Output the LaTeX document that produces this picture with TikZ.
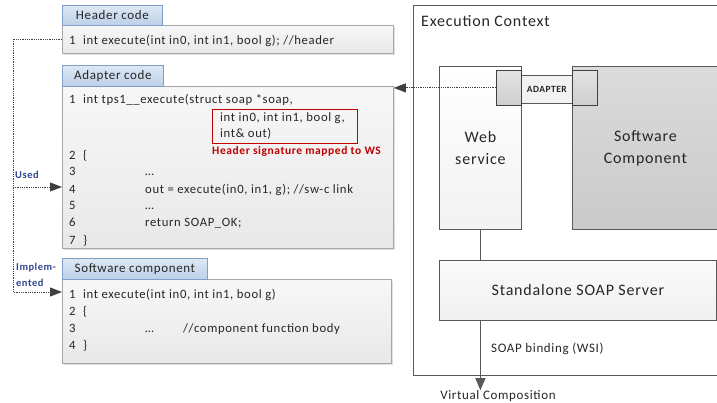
\documentclass[tikz,border=0pt]{standalone}
\usepackage{fontspec}
\setmainfont{Carlito}[LetterSpace=5]
\usetikzlibrary{arrows.meta,shadows}

\definecolor{tabtop}{HTML}{DDE8F4}
\definecolor{tabbot}{HTML}{BCD0E8}
\definecolor{tabline}{HTML}{7F9FC9}
\definecolor{codeline}{HTML}{A6A6A6}
\definecolor{sigred}{HTML}{C00000}
\definecolor{linkblue}{HTML}{33478F}
\definecolor{darkline}{HTML}{595959}

% line number and indented column of the code listings
\newcommand{\cnum}[1]{\makebox[14pt][l]{#1}}
\newcommand{\cind}[1]{\makebox[76pt][l]{#1}}

\tikzset{
  codebox/.style={draw=codeline, line width=0.8pt, top color=gray!6, bottom color=gray!18,
    drop shadow={shadow xshift=2pt, shadow yshift=-2pt, fill=gray!40, opacity=.6},
    anchor=north west, inner sep=0},
  tabbox/.style={draw=tabline, line width=0.8pt, top color=tabtop, bottom color=tabbot,
    anchor=north west, inner sep=0, text=black!85, font=\fontsize{13}{15}\selectfont},
  codetext/.style={anchor=base west, align=left, inner sep=0, text=black!85,
    font=\fontsize{12.7}{17}\selectfont},
  linklbl/.style={anchor=west, align=left, inner sep=0, text=linkblue,
    font=\bfseries\fontsize{10.5}{16}\selectfont},
  dotlink/.style={densely dotted, draw=black!75, line width=0.8pt,
    -{Triangle[length=12pt,width=9pt,fill=black!75]}},
  ctxbox/.style={draw=darkline, line width=1pt, anchor=north west, inner sep=0},
  blockbox/.style={draw=darkline, line width=0.8pt, anchor=north west, inner sep=0, align=center,
    text=black!85, font=\fontsize{16}{22}\selectfont},
  portbox/.style={draw=black!75, line width=0.8pt, top color=gray!22, bottom color=gray!38,
    anchor=north west, inner sep=0},
  plain/.style={inner sep=0, text=black!85, font=\fontsize{13}{15}\selectfont}
}

\begin{document}
\begin{tikzpicture}[x=1pt,y=-1pt]
\useasboundingbox (0,0) rectangle (717,403);
\clip (0,0) rectangle (717,403);

% header code
\node[codebox, minimum width=331pt, minimum height=28pt] (hdr) at (62,25) {};
\node[tabbox, minimum width=100pt, minimum height=20pt] (hdrtab) at (62,5) {Header code};
\node[codetext] (hdrcode) at (69,45) {\cnum{1}int execute(int in0, int in1, bool g); //header};

% adapter code (placed by the baseline of its last line)
\node[codebox, minimum width=331pt, minimum height=162pt] (adp) at (62,86) {};
\node[tabbox, minimum width=101pt, minimum height=21pt] (adptab) at (62,65) {Adapter code};
\node[codetext] (adpcode) at (69,244) {\cnum{1}int tps1\_\_execute(struct soap *soap,\\
  \hspace*{151pt}int in0, int in1, bool g,\\
  \hspace*{151pt}int\& out)\\[4pt]
  \cnum{2}\{\\
  \cind{3}…\\
  \cind{4}out = execute(in0, in1, g); //sw-c link\\
  \cind{5}…\\
  \cind{6}return SOAP\_OK;\\
  \cnum{7}\}};
\node[draw=sigred, line width=1pt, minimum width=145pt, minimum height=34pt,
  anchor=north west, inner sep=0] (sig) at (212,109) {};
\node[anchor=north west, inner sep=0, text=sigred, font=\bfseries\fontsize{11.5}{14}\selectfont]
  (siglbl) at (212,146) {Header signature mapped to WS};

% software component code
\node[codebox, minimum width=329pt, minimum height=84pt] (swc) at (62,279) {};
\node[tabbox, minimum width=145pt, minimum height=21pt] (swctab) at (62,258) {Software component};
\node[codetext] (swccode) at (69,349) {\cnum{1}int execute(int in0, int in1, bool g)\\
  \cnum{2}\{\\
  \cind{3}\makebox[38pt][l]{…}//component function body\\
  \cnum{4}\}};

% links from the header
\coordinate (rail) at (13,0);
\coordinate (used) at ([yshift=-101pt]adp.north west);
\coordinate (impl) at ([yshift=-13pt]swc.north west);
\draw[dotlink] (hdr.west) -| (rail |- impl) -- (impl);
\draw[dotlink] (rail |- used) -- (used);
\node[linklbl] (usedlbl) at (15,175) {Used};
\node[linklbl] (impllbl) at (16,275) {Implem-\\ented};

% execution context
\node[ctxbox, minimum width=340pt, minimum height=370pt] (ctx) at (413,5) {};
\node[plain, anchor=north west, font=\fontsize{16}{18}\selectfont] (ctxlbl) at (421,15) {Execution Context};

\node[blockbox, top color=white, bottom color=gray!10, minimum width=82pt, minimum height=163pt]
  (ws) at (439,66) {Web\\service};
\node[blockbox, top color=gray!28, bottom color=gray!42, minimum width=146pt, minimum height=163pt]
  (sw) at (572,66) {Software\\Component};
\node[blockbox, fill=gray!10, minimum width=51pt, minimum height=28pt,
  font=\bfseries\fontsize{9.5}{10}\selectfont] (adapter) at (521,75) {ADAPTER};
\node[portbox, minimum width=25pt, minimum height=35pt] (pws) at (496,70) {};
\node[portbox, minimum width=25pt, minimum height=35pt] (psw) at (572,70) {};

\draw[dotlink] (pws.west) -- (adp.east |- pws.west);

\node[blockbox, top color=gray!3, bottom color=gray!12, minimum width=277pt, minimum height=60pt]
  (srv) at (439,260) {Standalone SOAP Server};
\draw[draw=darkline, line width=1pt] (ws.south) -- (ws.south |- srv.north);

\node[plain, anchor=west] (bind) at (491,349) {SOAP binding (WSI)};
\node[plain] (vc) at (498,396) {Virtual Composition};
\draw[draw=darkline, line width=1pt, -{Triangle[length=12pt,width=10pt,fill=darkline]}]
  (ws.south |- srv.south) -- (ws.south |- vc.north);

\end{tikzpicture}
\end{document}
